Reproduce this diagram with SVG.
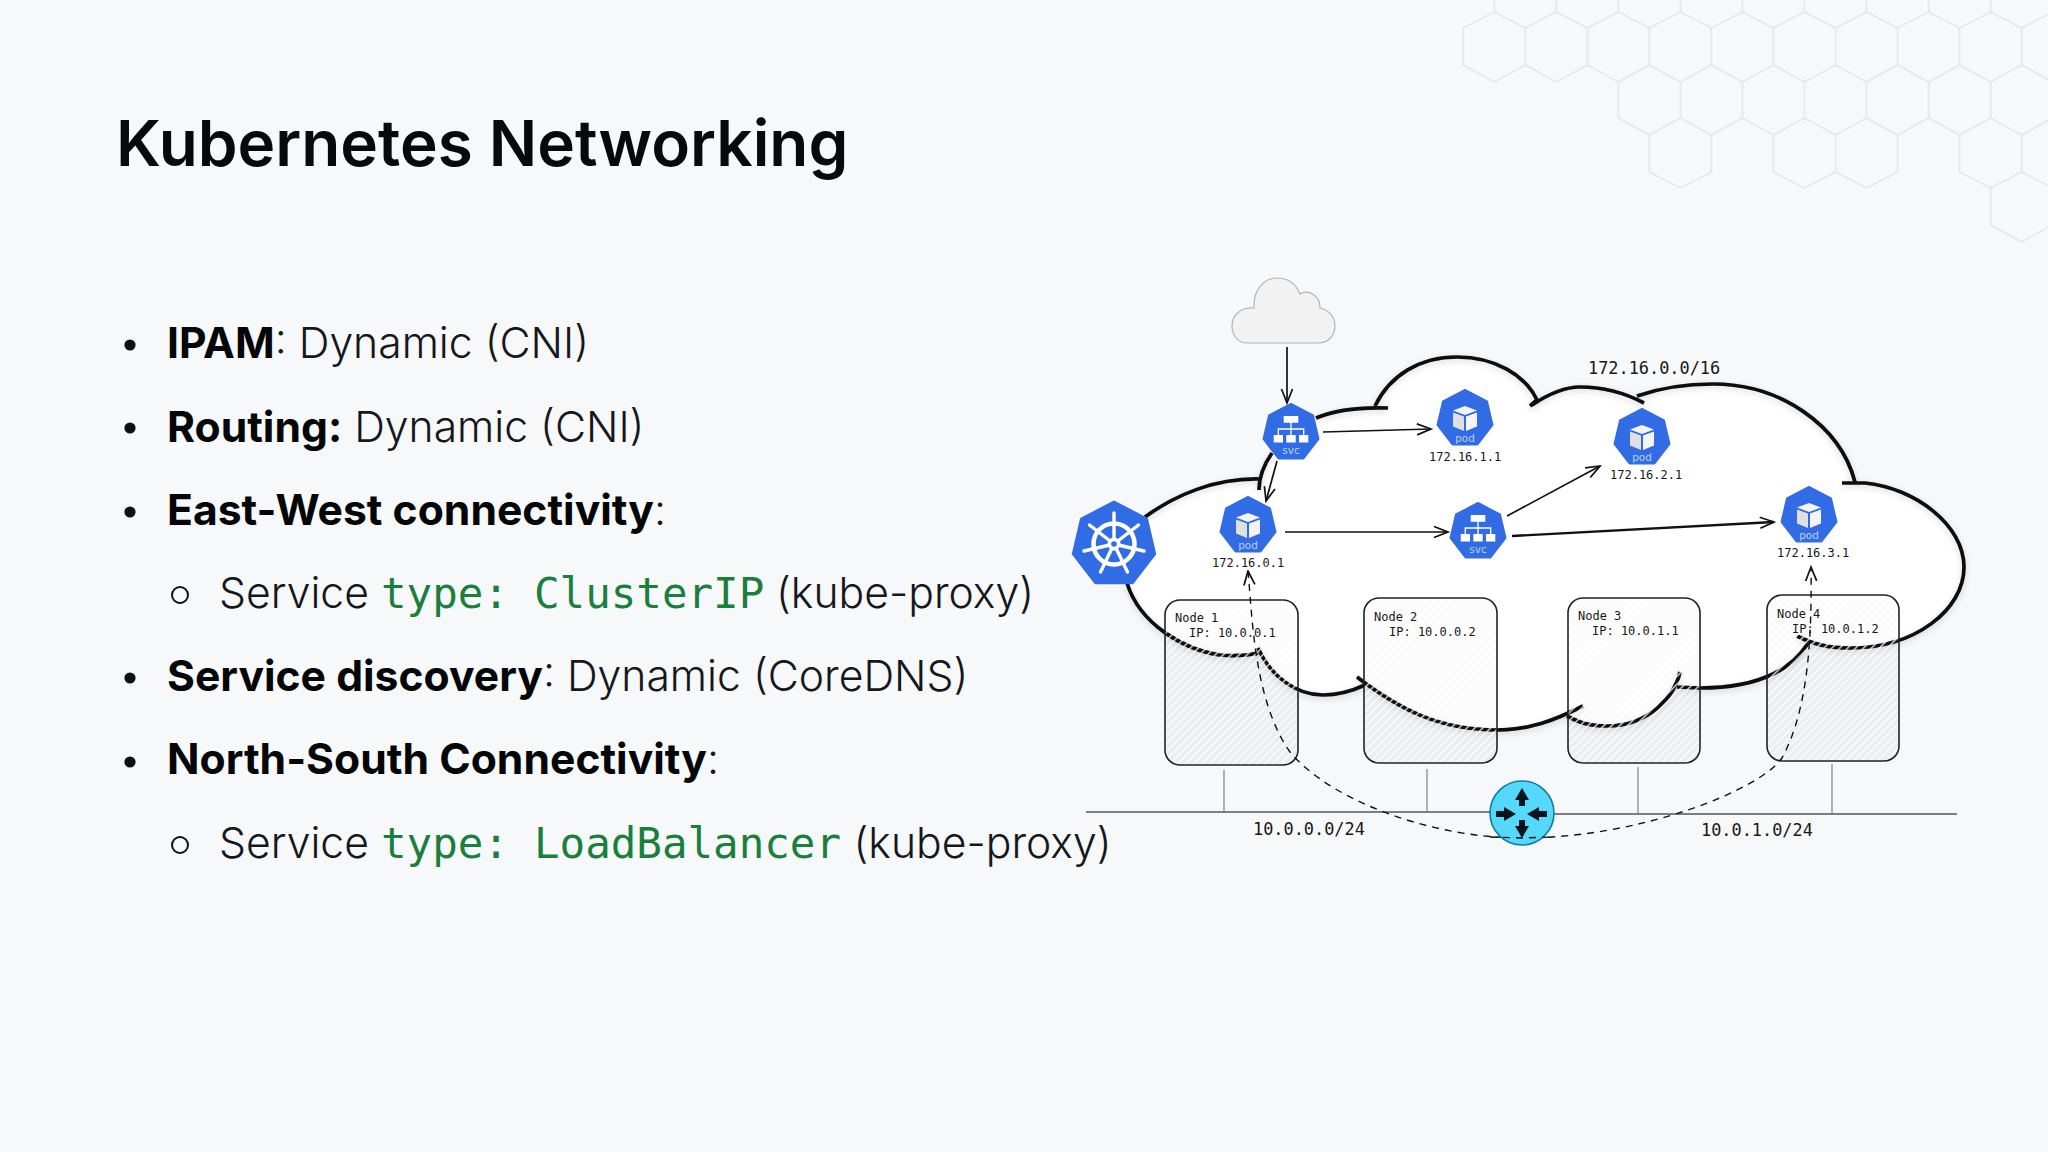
<svg xmlns="http://www.w3.org/2000/svg" xmlns:xlink="http://www.w3.org/1999/xlink" width="2048" height="1152" viewBox="0 0 2048 1152">
<style>
.hex{fill:none;stroke:#e6e7ec;stroke-width:1.6;stroke-linejoin:round}
.title{font:600 63.8px Inter,"Liberation Sans",sans-serif;fill:#08090c}
.li{font:300 42.67px Inter,"Liberation Sans",sans-serif;fill:#15171c}
.li .b{font-weight:700;fill:#050608}
.li .c{font-family:"DejaVu Sans Mono",monospace;font-size:42.5px;font-weight:400;fill:#1a7f3c}
.bul{fill:#0e1014}
.sub{fill:none;stroke:#0e1014;stroke-width:2}
.mono{font-family:"DejaVu Sans Mono",monospace;fill:#181818}
.s12{font-size:12px}
.s167{font-size:16.9px}
.ico{font-family:"DejaVu Sans",sans-serif;font-size:10.5px;fill:#b9cff3;text-anchor:middle}
.blue{fill:#326ce5;stroke:#326ce5;stroke-width:2;stroke-linejoin:round}
.arrow{fill:none;stroke:#111;stroke-width:1.7;marker-end:url(#open)}
.dash{fill:none;stroke:#111;stroke-width:1.4;stroke-dasharray:7 6;marker-start:url(#openS);marker-end:url(#open)}
.box{stroke:#222;stroke-width:1.6;fill:url(#hatch)}
.lobe{fill:none;stroke:#0a0a0a;stroke-width:3.7;stroke-linecap:butt}
.wire{stroke:#555;stroke-width:1.5;fill:none}
.stem{stroke:#8a8a8a;stroke-width:1.3;fill:none}
</style>
<defs>
<pattern id="hatch" patternUnits="userSpaceOnUse" width="5.6" height="5.6" patternTransform="rotate(45)">
<rect width="5.6" height="5.6" fill="none"/>
<rect width="1.5" height="5.6" fill="#fff" fill-opacity=".8"/>
</pattern>
<filter id="soft" x="-5%" y="-5%" width="110%" height="115%"><feDropShadow dx="0" dy="2" stdDeviation="3" flood-color="#000" flood-opacity=".16"/></filter>
<marker id="open" markerUnits="userSpaceOnUse" markerWidth="20" markerHeight="16" refX="15" refY="7" orient="auto"><path d="M1 1.5L15 7L1 12.5" fill="none" stroke="#111" stroke-width="1.7"/></marker>
<marker id="openS" markerUnits="userSpaceOnUse" markerWidth="20" markerHeight="16" refX="1" refY="7" orient="auto"><path d="M15 1.5L1 7L15 12.5" fill="none" stroke="#111" stroke-width="1.7"/></marker>
<path id="hept" d="M0 0L22 11.5L27.5 35L12.5 54.5L-12.5 54.5L-27.5 35L-22 11.5Z"/>
<g id="cube">
<path d="M0 16L12 20.5L0 25L-12 20.5Z" fill="#f4f4f4"/>
<path d="M-12 22.5L-1 26.5L-1 41L-12 36.5Z" fill="#dfe0e2"/>
<path d="M12 22.5L1 26.5L1 41L12 36.5Z" fill="#f4f4f4"/>
</g>
<g id="tree">
<path d="M0 18V31M-12.7 31V25H12.7V31" fill="none" stroke="#fff" stroke-width="1.3"/>
<path d="M-7.3 12H7.3V18.7H-7.3ZM-17.3 31H-8V38.6H-17.3ZM-4.7 31H4.7V38.6H-4.7ZM8 31H17.3V38.6H8Z" fill="#fff"/>
</g>
</defs>
<rect width="2048" height="1152" fill="#f7f8fa"/>
<g id="hexagons" class="hex">
<path d="M1494.3 -29V12M1556.3 -29V12M1618.4 -29V12M1680.4 -29V12M1742.4 -29V12M1804.5 -29V12M1866.5 -29V12M1928.6 -29V12M1990.6 -29V12"/>
<path d="M1463.3 28L1494.3 12L1525.3 28L1556.3 12L1587.4 28L1618.4 12L1649.4 28L1680.4 12L1711.4 28L1742.4 12L1773.4 28L1804.5 12L1835.5 28L1866.5 12L1897.5 28L1928.6 12L1959.6 28L1990.6 12L2021.6 28L2052.6 12"/>
<path d="M1463.3 28V65L1494.3 82L1525.3 65L1556.3 82L1587.4 65L1618.4 82L1649.4 65L1680.4 82L1711.4 65L1742.4 82L1773.4 65L1804.5 82L1835.5 65L1866.5 82L1897.5 65L1928.6 82L1959.6 65L1990.6 82L2021.6 65L2052.6 82"/>
<path d="M1525.3 28V65M1587.4 28V65M1649.4 28V65M1711.4 28V65M1773.4 28V65M1835.5 28V65M1897.5 28V65M1959.6 28V65M2021.6 28V65"/>
<path d="M1618.4 82V118L1649.4 135L1680.4 118L1711.4 135L1742.4 118L1773.4 135L1804.5 118L1835.5 135L1866.5 118L1897.5 135L1928.6 118L1959.6 135L1990.6 118L2021.6 135L2052.6 118"/>
<path d="M1680.4 82V118M1742.4 82V118M1804.5 82V118M1866.5 82V118M1928.6 82V118M1990.6 82V118"/>
<path d="M1649.4 135V172L1680.4 188L1711.4 172V135M1773.4 135V172L1804.5 188L1835.5 172L1866.5 188L1897.5 172V135M1835.5 135V172M1959.6 135V172L1990.6 188L2021.6 172L2052.6 188M2021.6 135V172"/>
<path d="M1990.6 188V225L2021.6 242L2052.6 225"/>
</g>
<text class="title" x="116" y="166">Kubernetes Networking</text>
<g id="bullets">
<circle class="bul" cx="130" cy="345" r="5.6"/>
<circle class="bul" cx="130" cy="428" r="5.6"/>
<circle class="bul" cx="130" cy="512" r="5.6"/>
<circle class="sub" cx="180" cy="595" r="8"/>
<circle class="bul" cx="130" cy="678" r="5.6"/>
<circle class="bul" cx="130" cy="762" r="5.6"/>
<circle class="sub" cx="180" cy="845" r="8"/>
<text class="li" x="167" y="358"><tspan class="b">IPAM</tspan>: Dynamic (CNI)</text>
<text class="li" x="167" y="441.500"><tspan class="b">Routing:</tspan> Dynamic (CNI)</text>
<text class="li" x="167" y="525"><tspan class="b">East-West connectivity</tspan>:</text>
<text class="li" x="219" y="608">Service <tspan class="c" x="381">type:</tspan><tspan class="c" x="534">ClusterIP</tspan><tspan x="776">(kube-proxy)</tspan></text>
<text class="li" x="167" y="691"><tspan class="b">Service discovery</tspan>: Dynamic (CoreDNS)</text>
<text class="li" x="167" y="774"><tspan class="b">North-South Connectivity</tspan>:</text>
<text class="li" x="219" y="858">Service <tspan class="c" x="381">type:</tspan><tspan class="c" x="534">LoadBalancer</tspan><tspan x="853.500">(kube-proxy)</tspan></text>
</g>
<g id="internet"><path d="M1247 343C1237 343 1232 334 1232 326C1232 315 1241 307 1254 308C1253 291 1263 278 1277 278C1288 278 1296 284 1300 294C1308 289 1320 295 1320 308C1329 310 1335 317 1335 326C1335 336 1328 343 1318 343Z" fill="#f2f2f3" stroke="#b4b4b4" stroke-width="1.2"/></g>
<g id="network-wires">
<path class="wire" d="M1086 812L1490 812M1554 814L1957 814"/>
<path class="stem" d="M1224 770V811M1427 769V811M1638 767V813M1832 764V813"/>
</g>
<g id="pod-cloud">
<path fill="#fff" d="M1127 583L1145 517C1175 495 1215 478 1260 479L1272 453L1316 418C1335 410 1355 408 1375 407C1390 375 1420 357 1457 357C1495 357 1525 375 1537 400C1550 393 1565 387 1580 387C1605 387 1625 393 1640 400C1660 388 1685 384 1713 384C1780 384 1840 425 1855 482L1865 483C1915 488 1964 525 1964 567C1964 610 1915 648 1850 648C1830 648 1815 645 1808 643C1795 665 1765 688 1700 688L1677 687C1672 695 1650 726 1607 726C1590 726 1580 723 1567 716C1555 720 1530 730 1497 730C1440 730 1400 710 1365 685C1350 692 1335 695 1323 695C1295 695 1270 675 1258 653C1245 656 1232 656 1220 655C1185 650 1140 625 1127 583Z"/>
<g fill="#000" fill-opacity=".045">
<rect x="1165" y="600" width="133" height="165" rx="15"/>
<rect x="1364" y="598" width="133" height="165" rx="15"/>
<rect x="1568" y="598" width="132" height="165" rx="15"/>
<rect x="1767" y="595" width="132" height="166" rx="15"/>
</g>
<path fill="#fff" fill-opacity=".75" d="M1127 583L1145 517C1175 495 1215 478 1260 479L1272 453L1316 418C1335 410 1355 408 1375 407C1390 375 1420 357 1457 357C1495 357 1525 375 1537 400C1550 393 1565 387 1580 387C1605 387 1625 393 1640 400C1660 388 1685 384 1713 384C1780 384 1840 425 1855 482L1865 483C1915 488 1964 525 1964 567C1964 610 1915 648 1850 648C1830 648 1815 645 1808 643C1795 665 1765 688 1700 688L1677 687C1672 695 1650 726 1607 726C1590 726 1580 723 1567 716C1555 720 1530 730 1497 730C1440 730 1400 710 1365 685C1350 692 1335 695 1323 695C1295 695 1270 675 1258 653C1245 656 1232 656 1220 655C1185 650 1140 625 1127 583Z"/>
<path class="lobe" filter="url(#soft)" d="M1145 517C1175 495 1215 478 1260 479M1259 490C1259 475 1265 463 1272 453M1316 418C1335 410 1360 407 1388 408M1375 406C1390 375 1420 357 1457 357C1495 357 1525 375 1537 400M1530 406L1538 399M1532 405C1550 393 1565 387 1580 387C1605 387 1625 393 1644 403M1637 396C1660 388 1685 384 1713 384C1780 384 1840 425 1855 482M1842 483L1865 483C1915 488 1964 525 1964 567C1964 610 1915 648 1850 648C1830 648 1815 645 1797 636M1808 643C1795 665 1765 688 1700 688L1677 687M1680 672C1675 695 1650 726 1607 726C1590 726 1580 723 1567 716M1583 706C1555 720 1530 730 1497 730C1440 730 1400 710 1357 677M1365 685C1350 692 1335 695 1323 695C1295 695 1270 675 1258 648M1258 653C1245 656 1232 656 1220 655C1185 650 1140 625 1127 583"/>
</g>
<g id="node-1"><rect class="box" x="1165" y="600" width="133" height="165" rx="15"/><text class="mono s12" x="1175" y="622">Node 1</text><text class="mono s12" x="1189" y="637">IP: 10.0.0.1</text></g>
<g id="node-2"><rect class="box" x="1364" y="598" width="133" height="165" rx="15"/><text class="mono s12" x="1374" y="620.500">Node 2</text><text class="mono s12" x="1389" y="635.500">IP: 10.0.0.2</text></g>
<g id="node-3"><rect class="box" x="1568" y="598" width="132" height="165" rx="15"/><text class="mono s12" x="1578" y="619.500">Node 3</text><text class="mono s12" x="1592" y="634.500">IP: 10.0.1.1</text></g>
<g id="node-4"><rect class="box" x="1767" y="595" width="132" height="166" rx="15"/><text class="mono s12" x="1777" y="617.500">Node 4</text><text class="mono s12" x="1792" y="632.500">IP: 10.0.1.2</text></g>
<g id="labels">
<text class="mono s167" x="1588" y="374">172.16.0.0/16</text>
<text class="mono s167" x="1253" y="835">10.0.0.0/24</text>
<text class="mono s167" x="1701" y="836">10.0.1.0/24</text>
</g>
<g id="connectors">
<path class="arrow" d="M1287 347L1287 403"/>
<path class="arrow" d="M1323 432L1431 429"/>
<path class="arrow" d="M1277 461L1266 501"/>
<path class="arrow" d="M1285 532L1448 532"/>
<path class="arrow" d="M1507 516L1600 466"/>
<path class="arrow" style="stroke-width:2.4" d="M1512 536L1774 522"/>
<path class="dash" d="M1248 571C1252 610 1253 700 1290 752C1330 800 1430 838 1522 838C1640 838 1760 790 1782 758C1808 710 1812 640 1811 567"/>
</g>
<g id="kubernetes-logo">
<g transform="translate(1114 502) scale(1.48)"><use href="#hept" class="blue"/></g>
<g fill="none" stroke="#fff">
<circle cx="1114" cy="544" r="20.500" stroke-width="4.500"/>
<path stroke-width="3.400" stroke-linecap="round" d="M1114 544L1114 513M1114 544L1138.500 525M1114 544L1144 551M1114 544L1127.500 572M1114 544L1100.500 572M1114 544L1084 551M1114 544L1089.500 525"/>
</g>
<circle cx="1114" cy="544" r="6.500" fill="#fff"/><circle cx="1114" cy="544" r="2.800" fill="#326ce5"/>
</g>
<g id="svc-ingress" transform="translate(1291 404)"><use href="#hept" class="blue"/><use href="#tree"/><text class="ico" y="50">svc</text></g>
<g id="svc-east" transform="translate(1478 503)"><use href="#hept" class="blue"/><use href="#tree"/><text class="ico" y="50">svc</text></g>
<g id="pod-0" transform="translate(1248 497)"><use href="#hept" class="blue"/><use href="#cube"/><text class="ico" y="52">pod</text></g>
<g id="pod-1" transform="translate(1465 390)"><use href="#hept" class="blue"/><use href="#cube"/><text class="ico" y="52">pod</text></g>
<g id="pod-2" transform="translate(1642 409)"><use href="#hept" class="blue"/><use href="#cube"/><text class="ico" y="52">pod</text></g>
<g id="pod-3" transform="translate(1809 487)"><use href="#hept" class="blue"/><use href="#cube"/><text class="ico" y="52">pod</text></g>
<g id="pod-labels">
<text class="mono s12" x="1212" y="567">172.16.0.1</text>
<text class="mono s12" x="1429" y="461">172.16.1.1</text>
<text class="mono s12" x="1610" y="479">172.16.2.1</text>
<text class="mono s12" x="1777" y="557">172.16.3.1</text>
</g>
<g id="router">
<circle cx="1522" cy="813" r="32" fill="#55d8fb" stroke="#0f7f9f" stroke-width="1.6"/>
<path fill="#08151c" d="M1522 788L1529 800H1525V806H1519V800H1515Z M1522 838L1529 826H1525V820H1519V826H1515Z M1516 814L1504 807V811H1496V817H1504V821Z M1527 814L1539 807V811H1547V817H1539V821Z"/>
<path fill="none" stroke="#111" stroke-width="1.400" stroke-dasharray="7 6" d="M1490 837L1522 838L1554 837"/>
</g>
</svg>
